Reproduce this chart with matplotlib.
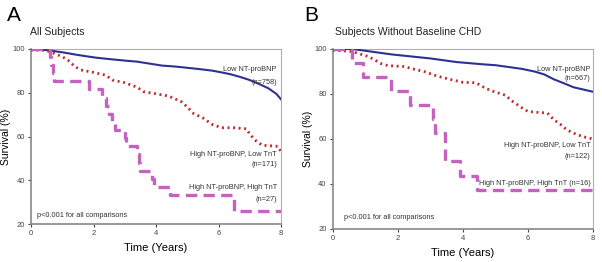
# Kaplan-Meier style survival curves, two panels
import matplotlib.pyplot as plt
import numpy as np

plt.rcParams['font.family'] = ['Liberation Sans', 'DejaVu Sans']

# --- Panel A: all subjects ---
a_low_t = [0, 0.3, 0.6, 1.0, 1.4, 1.8, 2.1, 2.5, 3.0, 3.4, 3.8, 4.2, 4.6, 5.0, 5.4, 5.8,
           6.1, 6.4, 6.7, 7.0, 7.3, 7.6, 7.85, 8.0]
a_low_s = [100, 99.8, 99.3, 98.5, 97.5, 96.6, 96.0, 95.4, 94.7, 94.2, 93.3, 92.4, 92.0, 91.4,
           90.8, 90.1, 89.3, 88.4, 87.2, 85.8, 84.0, 82.0, 79.5, 77.0]

a_mid_t = [0, 0.4, 0.6, 0.8, 1.0, 1.2, 1.4, 1.6, 2.0, 2.4, 2.6, 3.0, 3.4, 3.6, 4.0, 4.4, 4.8,
           5.0, 5.2, 5.5, 5.8, 6.1, 6.5, 6.9, 7.0, 7.2, 7.4, 7.9, 8.0]
a_mid_s = [99.5, 99.4, 98.8, 97.6, 96.5, 94.7, 92.0, 90.4, 89.3, 88.0, 85.8, 84.6, 82.5, 80.5, 79.5,
           78.5, 76.0, 73.5, 70.5, 68.5, 65.5, 64.0, 64.0, 63.5, 61.0, 58.0, 56.0, 55.5, 53.0]

a_high_t = [0, 0.6, 0.65, 0.7, 0.75, 1.85, 2.27, 2.4, 2.5, 2.6, 2.7, 3.0, 3.05, 3.4, 3.45, 3.5,
            3.87, 3.95, 4.45, 6.5, 8.0]
a_high_s = [100, 96.3, 92.6, 88.9, 85.2, 81.5, 77.8, 74.1, 70.4, 66.7, 63.0, 59.3, 55.6, 51.9,
            48.1, 44.4, 40.7, 37.0, 33.3, 25.9, 25.9]

# --- Panel B: subjects without baseline CHD ---
b_low_t = [0, 0.6, 1.0, 1.4, 1.8, 2.2, 2.6, 3.0, 3.4, 3.8, 4.2, 4.6, 5.0, 5.4, 5.8, 6.2,
           6.5, 6.8, 7.1, 7.4, 7.7, 8.0]
b_low_s = [100, 100, 99.2, 98.4, 97.6, 97.0, 96.4, 95.8, 95.0, 94.2, 93.7, 93.2, 92.8, 92.0,
           91.2, 90.0, 88.7, 86.5, 84.8, 83.0, 82.0, 81.0]

b_mid_t = [0, 0.3, 0.6, 0.9, 1.1, 1.3, 1.5, 1.7, 2.2, 2.5, 2.8, 3.2, 3.6, 4.0, 4.4, 4.7, 5.0,
           5.3, 5.5, 5.8, 6.0, 6.6, 6.8, 7.0, 7.2, 7.5, 7.7, 8.0]
b_mid_s = [99.5, 99.2, 98.8, 97.5, 96.6, 95.0, 93.4, 92.6, 92.2, 91.0, 90.0, 88.0, 86.5, 85.2,
           85.0, 82.5, 80.8, 79.5, 77.0, 74.0, 72.2, 71.5, 68.5, 66.5, 64.0, 62.0, 61.0, 60.0]

b_high_t = [0, 0.6, 0.92, 1.78, 2.37, 3.08, 3.15, 3.45, 3.9, 4.42, 8.0]
b_high_s = [100, 93.75, 87.5, 81.25, 75.0, 68.75, 62.5, 50.0, 43.75, 37.5, 37.5]

x_ticks = [0, 2, 4, 6, 8]
y_ticks = [20, 40, 60, 80, 100]

c_low = "#2e3192"
c_mid = "#c0282d"
c_high = "#c462c0"


def draw_panel(ax, low, mid, high, labels):
    ax.plot(low[0], low[1], color=c_low, lw=1.5, zorder=3)
    ax.plot(mid[0], mid[1], color=c_mid, lw=2.0,
            linestyle=(0, (0.7, 1.3)), zorder=3)
    ax.step(high[0], high[1], where="post", color=c_high, lw=2.4,
            linestyle=(0, (3.4, 1.9)), zorder=4)

    ax.set_xlim(0, 8)
    ax.set_ylim(20, 100)
    ax.set_xticks(x_ticks)
    ax.set_yticks(y_ticks)
    ax.tick_params(labelsize=5.5, length=2.5, width=0.8, colors="#444444", pad=2)
    for side in ["top", "right"]:
        ax.spines[side].set_color("#b0b0b0")
        ax.spines[side].set_linewidth(0.8)
    for side in ["left", "bottom"]:
        ax.spines[side].set_color("#888888")
        ax.spines[side].set_linewidth(1.2)
    ax.set_xlabel("Time (Years)", fontsize=8, labelpad=4)
    ax.set_ylabel("Survival (%)", fontsize=7.5, labelpad=1)

    for (x, y, s, ha) in labels:
        ax.text(x, y, s, fontsize=5.3, ha=ha, va="center", color="#333333")


fig = plt.figure(figsize=(6.02, 2.62), dpi=100)
ax1 = fig.add_axes([0.0515, 0.145, 0.4153, 0.668])
ax2 = fig.add_axes([0.553, 0.126, 0.432, 0.687])

draw_panel(ax1, (a_low_t, a_low_s), (a_mid_t, a_mid_s), (a_high_t, a_high_s), [
    (7.87, 90.4, "Low NT-proBNP", "right"),
    (7.87, 84.9, "(n=758)", "right"),
    (7.87, 52.0, "High NT-proBNP, Low TnT", "right"),
    (7.87, 47.0, "(n=171)", "right"),
    (7.87, 36.5, "High NT-proBNP, High TnT", "right"),
    (7.87, 31.0, "(n=27)", "right"),
    (0.2, 23.8, "p<0.001 for all comparisons", "left"),
])
draw_panel(ax2, (b_low_t, b_low_s), (b_mid_t, b_mid_s), (b_high_t, b_high_s), [
    (7.92, 91.1, "Low NT-proBNP", "right"),
    (7.92, 86.7, "(n=667)", "right"),
    (7.92, 57.0, "High NT-proBNP, Low TnT", "right"),
    (7.92, 52.2, "(n=122)", "right"),
    (7.94, 40.3, "High NT-proBNP, High TnT (n=16)", "right"),
    (0.34, 25.0, "p<0.001 for all comparisons", "left"),
])

fig.text(0.012, 0.94, "A", fontsize=15, va="center", ha="left")
fig.text(0.05, 0.877, "All Subjects", fontsize=7.5, va="center", ha="left", color="#222222")
fig.text(0.505, 0.94, "B", fontsize=15, va="center", ha="left")
fig.text(0.556, 0.877, "Subjects Without Baseline CHD", fontsize=7.5, va="center", ha="left", color="#222222")

fig.savefig("out.png", dpi=100)
